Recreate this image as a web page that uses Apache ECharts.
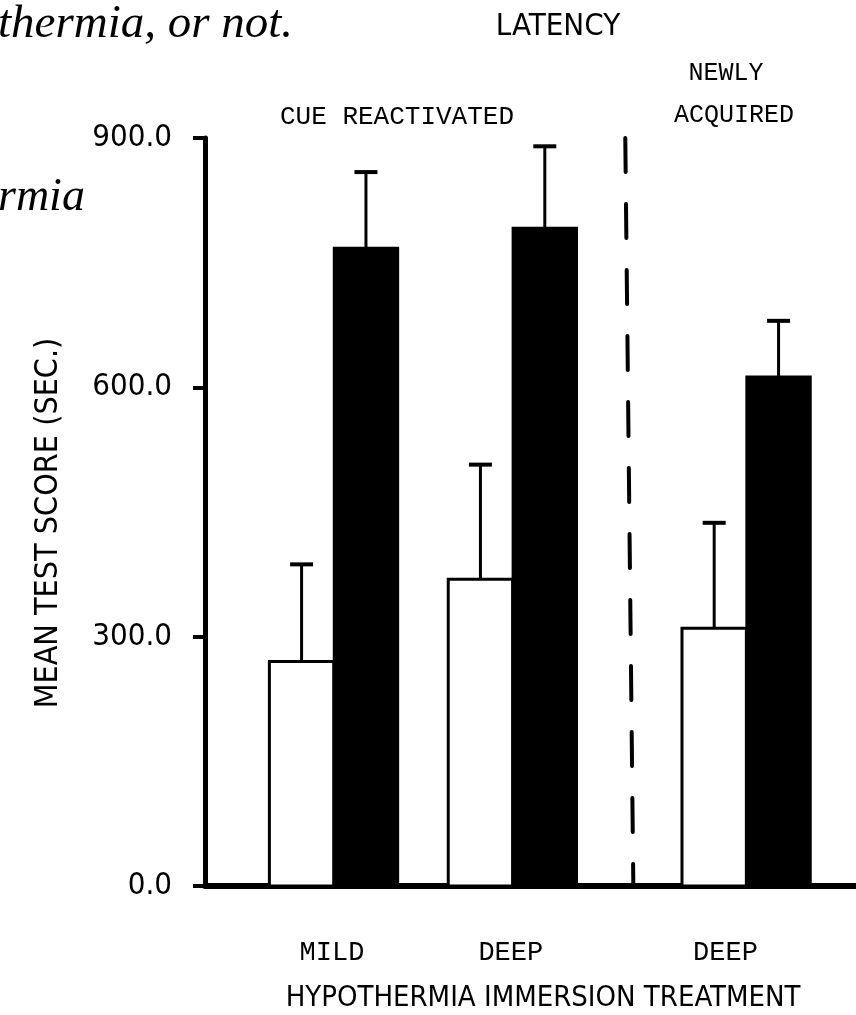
<!DOCTYPE html>
<html><head><meta charset="utf-8">
<script src="https://cdn.jsdelivr.net/npm/echarts@6/dist/echarts.min.js"></script>
<style>html,body{margin:0;padding:0;background:#fff}#c{width:856px;height:1015px}</style>
</head><body><div id="c"></div>
<script>
// ---- data ----
const categories = ['MILD', 'DEEP', 'DEEP'];
const whiteMeans = [270, 369, 310];
const whiteErrTop = [387, 507, 437];
const blackMeans = [768, 792, 613];
const blackErrTop = [859, 890, 680];
const yTicks = [0, 300, 600, 900];
const xTitle = 'HYPOTHERMIA IMMERSION TREATMENT';
const yTitle = 'MEAN TEST SCORE (SEC.)';
const chartTitle = 'LATENCY';

// ---- layout constants ----
const groupPos = [1, 2, 3.307];
const labelPos = [0.99, 1.99, 3.19];
const dividerTop = 2.63, dividerBottom = 2.675;
const barW = 0.36;
const NARROW = "'Liberation Sans Narrow','DejaVu Sans Condensed',sans-serif";
const MONO = "'Liberation Mono','DejaVu Sans Mono',monospace";
const SERIF = "'Liberation Serif','DejaVu Serif',serif";

const chart = echarts.init(document.getElementById('c'), null, {renderer: 'canvas'});

const barData = categories.map((c, i) => [groupPos[i], whiteMeans[i], blackMeans[i], whiteErrTop[i], blackErrTop[i]]);
const labelData = categories.map((c, i) => [labelPos[i], 0, c]);

function renderBars(params, api) {
  const x = api.value(0);
  const base = api.coord([x, 0]);
  const w = api.size([barW, 0])[0];
  const wTop = api.coord([x, api.value(1)]);
  const bTop = api.coord([x, api.value(2)]);
  const wErr = api.coord([x, api.value(3)]);
  const bErr = api.coord([x, api.value(4)]);
  const cx = base[0];
  const capW = 23;
  const wc = cx - w / 2, bc = cx + w / 2;
  return {
    type: 'group',
    children: [
      {type: 'line', shape: {x1: wc, y1: wTop[1], x2: wc, y2: wErr[1]}, style: {stroke: '#000', lineWidth: 3}},
      {type: 'line', shape: {x1: wc - capW / 2, y1: wErr[1], x2: wc + capW / 2, y2: wErr[1]}, style: {stroke: '#000', lineWidth: 4}},
      {type: 'line', shape: {x1: bc, y1: bTop[1], x2: bc, y2: bErr[1]}, style: {stroke: '#000', lineWidth: 3}},
      {type: 'line', shape: {x1: bc - capW / 2, y1: bErr[1], x2: bc + capW / 2, y2: bErr[1]}, style: {stroke: '#000', lineWidth: 4}},
      {type: 'rect', shape: {x: cx - w, y: wTop[1], width: w, height: base[1] - wTop[1]}, style: {fill: '#fff', stroke: '#000', lineWidth: 3}},
      {type: 'rect', shape: {x: cx, y: bTop[1], width: w, height: base[1] - bTop[1]}, style: {fill: '#000', stroke: '#000', lineWidth: 2}}
    ]
  };
}

function renderDivider(params, api) {
  const p1 = api.coord([api.value(0), api.value(1)]);
  const p2 = api.coord([api.value(2), api.value(3)]);
  return {
    type: 'line',
    shape: {x1: p1[0], y1: p1[1], x2: p2[0], y2: p2[1]},
    style: {stroke: '#000', lineWidth: 4, lineDash: [34, 32], lineCap: 'round'}
  };
}

function renderLabels(params, api) {
  const p = api.coord([api.value(0), 0]);
  return {
    type: 'text',
    x: p[0], y: p[1] + 67,
    style: {text: api.value(2), fill: '#000', font: '27px ' + MONO, textAlign: 'center', textVerticalAlign: 'middle'}
  };
}

const option = {
  backgroundColor: '#fff',
  animation: false,
  grid: {left: 205, right: 0, top: 138, bottom: 129, containLabel: false},
  xAxis: {
    type: 'value', min: 0.28, max: 3.92,
    axisLine: {show: true, onZero: false, lineStyle: {color: '#000', width: 6}},
    axisTick: {show: false}, axisLabel: {show: false}, splitLine: {show: false}
  },
  yAxis: {
    type: 'value', min: 0, max: 900, interval: 300,
    axisLine: {show: true, lineStyle: {color: '#000', width: 5}},
    axisTick: {show: true, inside: false, length: 12, lineStyle: {color: '#000', width: 4}},
    axisLabel: {
      margin: 33, color: '#000', fontFamily: NARROW, fontSize: 31,
      formatter: v => yTicks.includes(v) ? v.toFixed(1) : ''
    },
    splitLine: {show: false}
  },
  series: [
    {type: 'custom', name: 'divider', renderItem: renderDivider, data: [[dividerTop, 900, dividerBottom, 0]], z: 1, clip: false, silent: true},
    {type: 'custom', name: 'bars', renderItem: renderBars, data: barData, z: 3, clip: false},
    {type: 'custom', name: 'labels', renderItem: renderLabels, data: labelData, z: 3, clip: false}
  ],
  graphic: [
    {type: 'text', x: 558, y: 27, style: {text: chartTitle, fill: '#000', font: '31px ' + NARROW, textAlign: 'center', textVerticalAlign: 'middle'}},
    {type: 'text', x: 397, y: 117, style: {text: 'CUE REACTIVATED', fill: '#000', font: '26px ' + MONO, textAlign: 'center', textVerticalAlign: 'middle'}},
    {type: 'text', x: 726, y: 73, style: {text: 'NEWLY', fill: '#000', font: '25px ' + MONO, textAlign: 'center', textVerticalAlign: 'middle'}},
    {type: 'text', x: 734, y: 115, style: {text: 'ACQUIRED', fill: '#000', font: '25px ' + MONO, textAlign: 'center', textVerticalAlign: 'middle'}},
    {type: 'text', x: 543, y: 998, style: {text: xTitle, fill: '#000', font: '29px ' + NARROW, textAlign: 'center', textVerticalAlign: 'middle'}},
    {type: 'text', x: 49, y: 523, rotation: Math.PI / 2, style: {text: yTitle, fill: '#000', font: '32px ' + NARROW, textAlign: 'center', textVerticalAlign: 'middle'}},
    {type: 'text', x: -2, y: 25, style: {text: 'thermia, or not.', fill: '#000', font: 'italic 47px ' + SERIF, textAlign: 'left', textVerticalAlign: 'middle'}},
    {type: 'text', x: -2, y: 198, style: {text: 'rmia', fill: '#000', font: 'italic 46px ' + SERIF, textAlign: 'left', textVerticalAlign: 'middle'}}
  ]
};
chart.setOption(option);
</script>
</body></html>
